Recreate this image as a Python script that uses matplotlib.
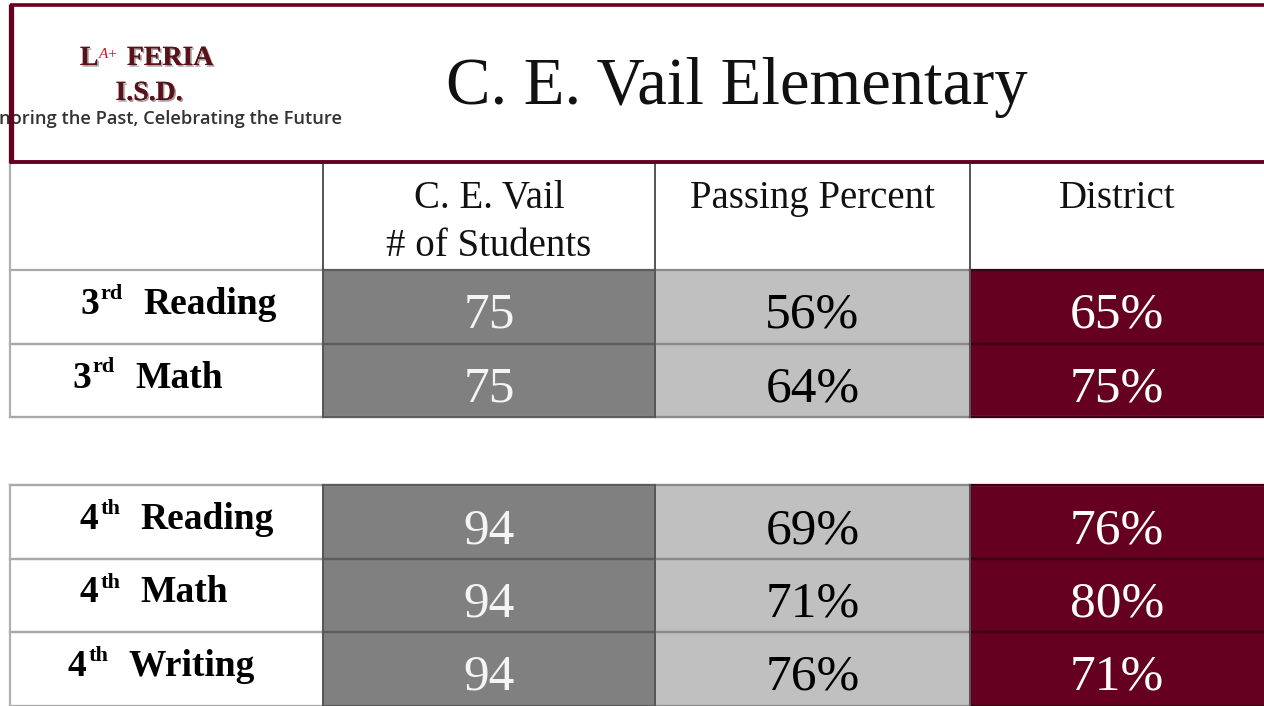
import matplotlib
matplotlib.use("Agg")
import matplotlib.pyplot as plt
from matplotlib.patches import Rectangle
import matplotlib.patheffects as pe

# ---------------- data ----------------
title = "C. E. Vail Elementary"
column_headers = ["C. E. Vail\n# of Students", "Passing Percent", "District"]
grades = ["3", "3", "4", "4", "4"]
suffixes = ["rd", "rd", "th", "th", "th"]
subjects = ["Reading", "Math", "Reading", "Math", "Writing"]
students = [75, 75, 94, 94, 94]
passing = [56, 64, 69, 71, 76]
district = [65, 75, 76, 80, 71]
groups = [0, 0, 1, 1, 1]   # 3rd grade / 4th grade (blank row between groups)

# ---------------- layout ----------------
W, H = 1264, 706
MAROON = "#650020"
GRAY = "#808080"
LGRAY = "#c0c0c0"
col_x = [10, 323, 655, 970, 1264]
header_top, header_bot = 163, 270
row_h = 73.5
gap_h = 68
label_x = [80, 72, 80, 80, 68]

fig = plt.figure(figsize=(W / 100, H / 100), dpi=100)
ax = fig.add_axes([0, 0, 1, 1])
ax.set_xlim(0, W)
ax.set_ylim(H, 0)
ax.axis("off")

serif = "Liberation Serif"

# ---------------- top banner ----------------
ax.plot([10, W], [5, 5], color=MAROON, lw=2.6, solid_capstyle="butt", zorder=5)
ax.plot([10, W], [161.5, 161.5], color=MAROON, lw=2.8, solid_capstyle="butt", zorder=5)
ax.plot([10.5, 10.5], [4, 163], color=MAROON, lw=3.8, solid_capstyle="butt", zorder=5)

ax.text(737, 104, title, family=serif, fontsize=48, ha="center", va="baseline",
        color="#111111")

shadow = [pe.withSimplePatchShadow(offset=(1.2, -1.2), shadow_rgbFace="#777777", alpha=0.7),
          pe.Normal()]
ax.text(80, 65, "L", family=serif, fontsize=20, fontweight="bold", color="#5a1218",
        ha="left", va="baseline", path_effects=shadow)
ax.text(99, 58, "A+", family=serif, fontsize=11, fontstyle="italic", color="#c0202a",
        ha="left", va="baseline")
ax.text(170, 65, "FERIA", family=serif, fontsize=20, fontweight="bold", color="#5a1218",
        ha="center", va="baseline", path_effects=shadow)
ax.text(149, 100, "I.S.D.", family=serif, fontsize=20, fontweight="bold", color="#5a1218",
        ha="center", va="baseline", path_effects=shadow)
ax.text(342, 124, "Honoring the Past, Celebrating the Future", family="Open Sans",
        fontsize=13.2, fontweight="semibold", color="#333333", ha="right", va="baseline")

# ---------------- table ----------------
row_tops = []
y = header_bot
prev_g = groups[0]
for g in groups:
    if g != prev_g:
        y += gap_h
        prev_g = g
    row_tops.append(y)
    y += row_h

fills = ["white", GRAY, LGRAY, MAROON]
txt_colors = [None, "#f4f4f4", "#000000", "#ffffff"]
line_colors = ["#a8a8a8", "#5c5c5c", "#8a8a8a", "#3a0012"]

for c in range(4):
    ax.add_patch(Rectangle((col_x[c], header_top), col_x[c + 1] - col_x[c],
                           header_bot - header_top, facecolor="white", edgecolor="none"))
for c, hdr in enumerate(column_headers):
    cx = (col_x[c + 1] + col_x[c + 2]) / 2
    for k, line in enumerate(hdr.split("\n")):
        ax.text(cx, 208 + k * 48, line, family=serif, fontsize=28, ha="center",
                va="baseline", color="#111111")

values = [students, passing, district]
renderer = fig.canvas.get_renderer()
for i in range(len(subjects)):
    top = row_tops[i]
    for c in range(4):
        ax.add_patch(Rectangle((col_x[c], top), col_x[c + 1] - col_x[c], row_h,
                               facecolor=fills[c], edgecolor="none", zorder=1))
        ax.plot([col_x[c], col_x[c + 1]], [top, top], color=line_colors[c], lw=1.6, zorder=3)
        ax.plot([col_x[c], col_x[c + 1]], [top + row_h, top + row_h], color=line_colors[c],
                lw=1.6, zorder=3)
    for c in range(3):
        v = values[c][i]
        s = f"{v}%" if c > 0 else f"{v}"
        ax.text((col_x[c + 1] + col_x[c + 2]) / 2, top + 58, s, family=serif, fontsize=37,
                ha="center", va="baseline", color=txt_colors[c + 1], zorder=4)
    # row label with superscript
    t1 = ax.text(label_x[i], top + 44, grades[i], family=serif, fontsize=27,
                 fontweight="bold", ha="left", va="baseline", zorder=4)
    bb = t1.get_window_extent(renderer=renderer)
    t2 = ax.text(bb.x1 + 2, H - (top + 29), suffixes[i], family=serif, fontsize=16,
                 fontweight="bold", ha="left", va="baseline", zorder=4,
                 transform=None)
    bb2 = t2.get_window_extent(renderer=renderer)
    ax.text(bb2.x1 + 20, H - (top + 44), subjects[i], family=serif, fontsize=27,
            fontweight="bold", ha="left", va="baseline", zorder=4, transform=None)

# vertical lines (header + each row group)
group_spans = [(header_top, row_tops[1] + row_h), (row_tops[2], H)]
for (y0, y1) in group_spans:
    ax.plot([col_x[0], col_x[0]], [y0, y1], color="#b0b0b0", lw=1.6, zorder=3)
    for c in range(1, 4):
        ax.plot([col_x[c], col_x[c]], [y0, y1], color="#555555", lw=1.4, zorder=3)
for yy in (row_tops[1] + row_h, row_tops[2]):
    ax.plot([col_x[0], W], [yy, yy], color="#c8c8c8", lw=1.6, zorder=2)

fig.savefig("out.png", dpi=100)
